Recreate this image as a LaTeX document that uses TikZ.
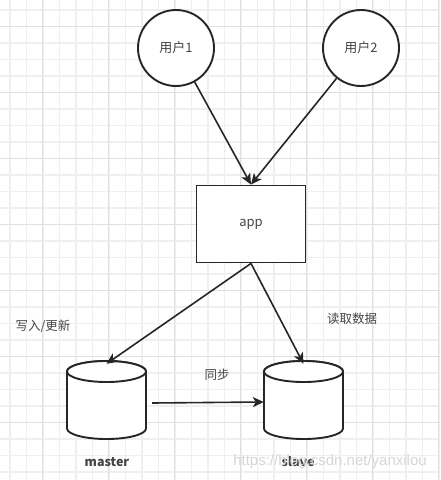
\documentclass[tikz,border=0pt]{standalone}
\usepackage{fontspec}
\setmainfont{Noto Sans CJK SC}
\newfontfamily\wmfont{Liberation Sans}
\usetikzlibrary{arrows.meta}
\definecolor{ink}{HTML}{262626}
\definecolor{txt}{HTML}{444444}
\definecolor{gridminor}{HTML}{EFEFEF}
\definecolor{gridmajor}{HTML}{E0E0E0}
\begin{document}
\begin{tikzpicture}[x=1pt,y=-1pt,
  shapeline/.style={draw=ink,line width=1.9pt,fill=white},
  usernode/.style={shapeline,circle,minimum size=76pt,inner sep=0pt,font=\fontsize{13}{15}\selectfont,text=txt},
  appnode/.style={shapeline,rectangle,minimum width=109pt,minimum height=77pt,inner sep=0pt,font=\fontsize{13}{15}\selectfont,text=txt},
  dbbox/.style={rectangle,minimum width=79pt,minimum height=78pt,inner sep=0pt},
  lbl/.style={font=\fontsize{12.5}{15}\selectfont,text=txt,inner sep=0pt},
  conn/.style={draw=ink,line width=1.6pt,-{Stealth[length=11pt,width=10pt,inset=3pt]}}
]
\useasboundingbox (0,0) rectangle (440,480);
\fill[white] (0,0) rectangle (440,480);
% grid
\foreach \i in {0,...,26}{
  \pgfmathsetmacro{\gx}{10+16.5*\i}
  \draw[gridminor,line width=1.2pt] (\gx,0) -- (\gx,480);
}
\foreach \i in {0,...,28}{
  \pgfmathsetmacro{\gy}{10+16.5*\i}
  \draw[gridminor,line width=1.2pt] (0,\gy) -- (440,\gy);
}
\foreach \i in {0,...,6}{
  \pgfmathsetmacro{\gx}{42.7+66*\i}
  \draw[gridmajor,line width=1.4pt] (\gx,0) -- (\gx,480);
}
\foreach \i in {0,...,6}{
  \pgfmathsetmacro{\gy}{26.7+66*\i}
  \draw[gridmajor,line width=1.4pt] (0,\gy) -- (440,\gy);
}
% nodes
\node[usernode] (u1) at (176,48) {用户1};
\node[usernode] (u2) at (361,48) {用户2};
\node[appnode] (app) at (251,224) {app};
\node[dbbox] (master) at (106.5,400) {};
\node[dbbox] (slave) at (303.5,400) {};
% cylinders
\foreach \cx in {106.5,303.5}{
  \path[shapeline] (\cx-39.5,371.5) -- (\cx-39.5,428.5)
     arc[start angle=180,end angle=0,x radius=39.5,y radius=10.5]
     -- (\cx+39.5,371.5)
     arc[start angle=0,end angle=-180,x radius=39.5,y radius=10.5] -- cycle;
  \draw[shapeline] (\cx,371.5) ellipse[x radius=39.5,y radius=10.5];
}
% labels
\node[lbl] (lw) at (43,326) {写入/更新};
\node[lbl] (lr) at (352,319) {读取数据};
\node[lbl] (ls) at (217,375) {同步};
\node[lbl,font=\fontsize{12.5}{15}\selectfont\bfseries] (lm) at (107,462) {master};
\node[lbl,font=\fontsize{12.5}{15}\selectfont\bfseries] (lsl) at (298,462) {slave};
% connectors
\draw[conn] (u1) -- (app.north);
\draw[conn] (u2) -- (app.north);
\draw[conn] (app.south) -- ([yshift=-3pt]master.north);
\draw[conn] (app.south) -- ([yshift=-3pt]slave.north);
\draw[conn] ([xshift=6pt,yshift=-3pt]master.east) -- ([yshift=-2pt]slave.west);
% watermark
\node[inner sep=0pt,text=black!16,font=\wmfont\fontsize{15}{17}\selectfont] (wm) at (330,462) {https://blog.csdn.net/yanxilou};
\end{tikzpicture}
\end{document}
